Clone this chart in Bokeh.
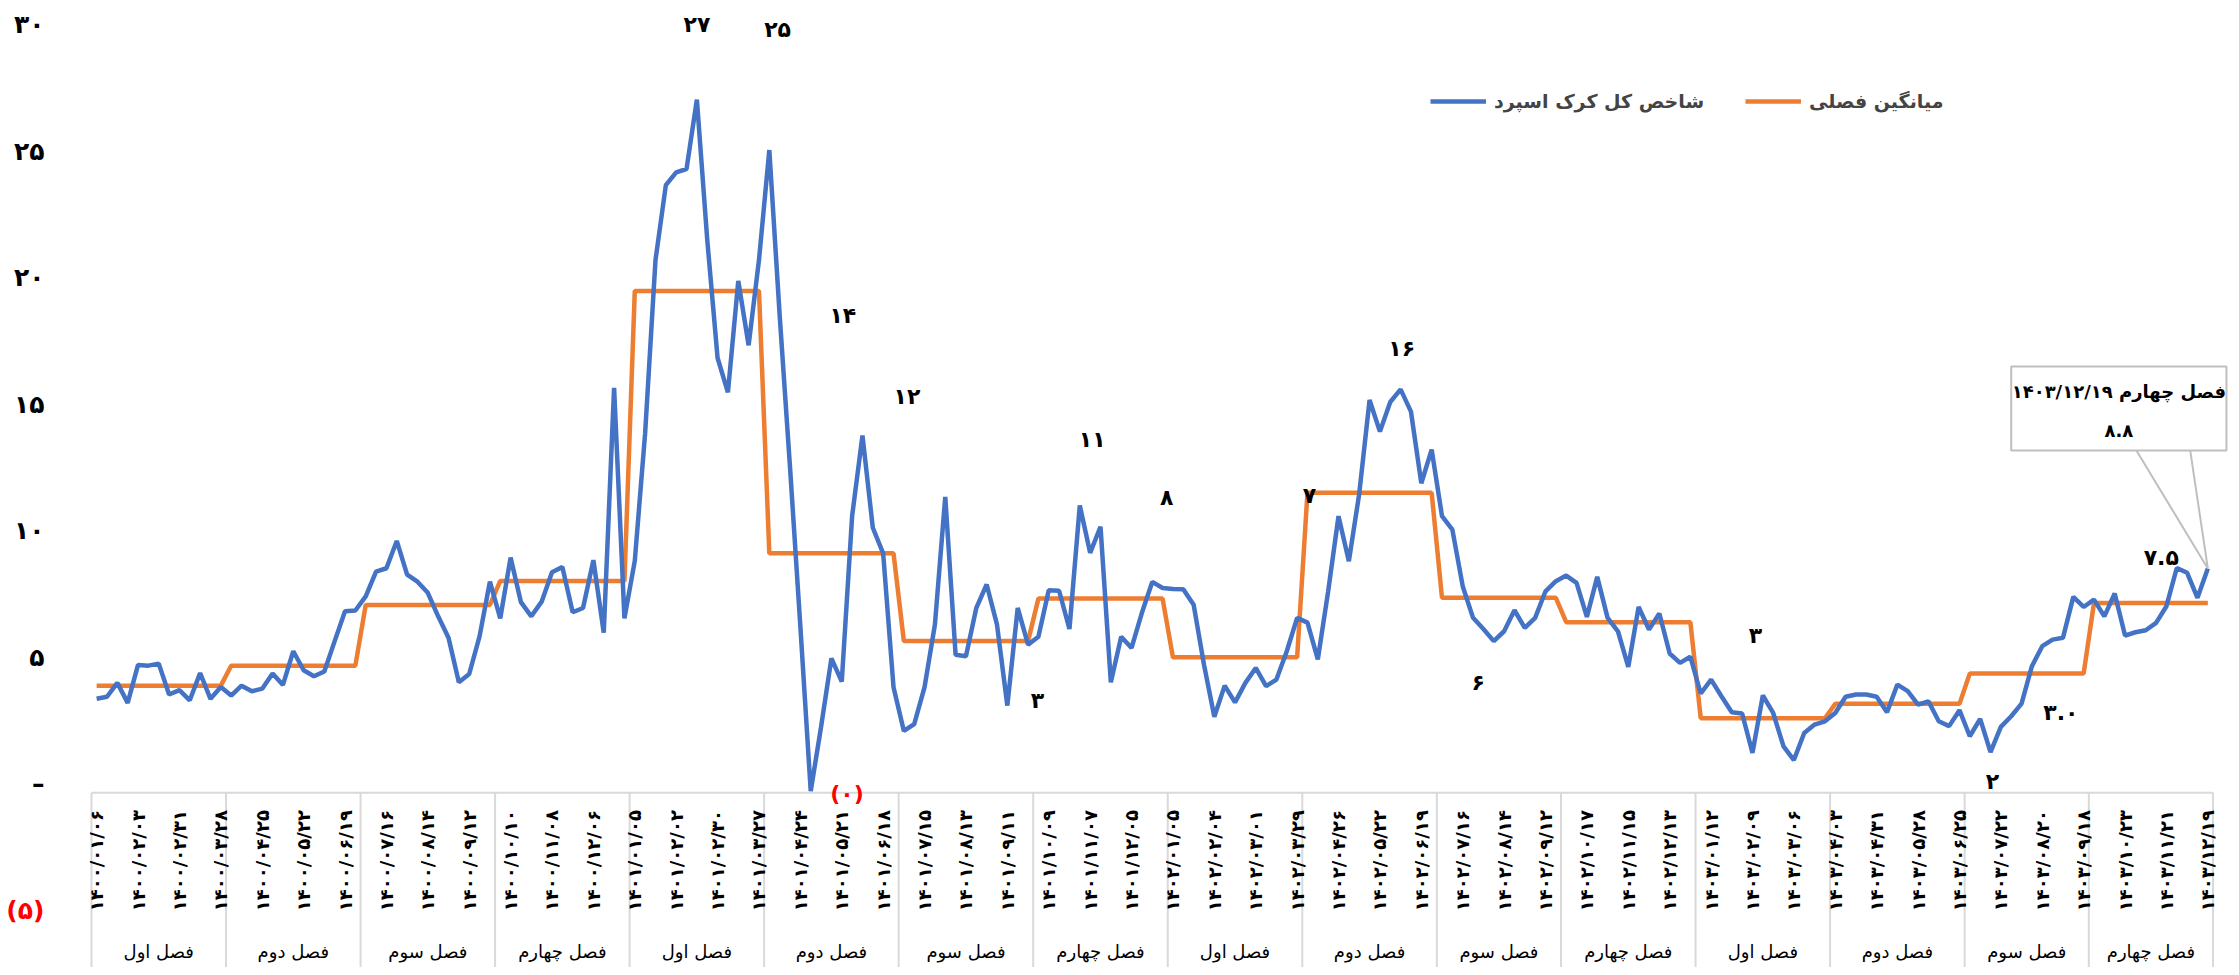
import numpy as np
from bokeh.plotting import figure
from bokeh.models import Legend, LegendItem, Range1d, ColumnDataSource
from bokeh.core.properties import value
from bokeh.embed import file_html
from bokeh.resources import INLINE

# ---------------- data ----------------
blue_1400 = [3.35, 3.43, 3.98, 3.19, 4.69, 4.66, 4.74, 3.52, 3.69, 3.29, 4.37, 3.35, 3.82,
             3.48, 3.87, 3.65, 3.75, 4.35, 3.90, 5.23, 4.48, 4.24, 4.43, 5.63, 6.81, 6.84,
             7.40, 8.38, 8.51, 9.59, 8.26, 7.98, 7.54, 6.61, 5.76, 4.00, 4.33, 5.82, 7.98,
             6.53, 8.93, 7.17, 6.61, 7.19, 8.35, 8.56, 6.77, 6.94, 8.83, 5.96, 15.64, 6.53]
blue_1401 = [8.80, 13.85, 20.69, 23.65, 24.16, 24.29, 27.03, 21.5, 16.82, 15.46, 19.87, 17.32, 20.69,
             25.04, 18.5, 12.5, 6.2, -0.3, 2.24, 4.95, 4.03, 10.57, 13.76, 10.11, 9.10, 3.81,
             2.08, 2.35, 3.81, 6.28, 11.33, 5.09, 5.03, 6.94, 7.87, 6.28, 3.08, 6.94, 5.49,
             5.80, 7.64, 7.62, 6.11, 10.99, 9.12, 10.15, 4.00, 5.80, 5.36, 6.75, 7.97, 7.73]
blue_1402 = [7.69, 7.68, 7.07, 4.70, 2.64, 3.87, 3.21, 3.98, 4.57, 3.85, 4.11, 5.23, 6.55,
             6.36, 4.91, 7.60, 10.57, 8.79, 11.45, 15.16, 13.91, 15.08, 15.58, 14.70, 11.87, 13.20,
             10.57, 10.04, 7.80, 6.55, 6.11, 5.63, 6.02, 6.85, 6.15, 6.55, 7.60, 8.00,
             8.22, 7.93, 6.59, 8.17, 6.55, 6.02, 4.61, 6.98, 6.09, 6.72, 5.14, 4.77, 5.01]
blue_1403 = [3.56, 4.11, 3.45, 2.82, 2.77, 1.21, 3.48, 2.79, 1.47, 0.93, 2.00, 2.33, 2.46,
             2.79, 3.43, 3.52, 3.52, 3.43, 2.82, 3.91, 3.65, 3.12, 3.25, 2.46, 2.27, 2.90,
             1.87, 2.56, 1.24, 2.24, 2.66, 3.16, 4.64, 5.43, 5.69, 5.76, 7.38, 6.98,
             7.27, 6.61, 7.51, 5.85, 5.98, 6.06, 6.35, 7.01, 8.52, 8.33, 7.34, 8.50]

season_names = ["فصل اول", "فصل دوم", "فصل سوم", "فصل چهارم"] * 4
season_lengths = [13, 13, 13, 13, 13, 13, 13, 13, 13, 13, 12, 13, 13, 13, 12, 12]
season_avg = [3.87, 4.66, 7.06, 8.01, 19.47, 9.10, 5.63, 7.31,
              4.99, 11.49, 7.34, 6.38, 2.58, 3.15, 4.35, 7.14]

date_labels = [
    "۱۴۰۰/۰۱/۰۶", "۱۴۰۰/۰۲/۰۳", "۱۴۰۰/۰۲/۳۱", "۱۴۰۰/۰۳/۲۸", "۱۴۰۰/۰۴/۲۵", "۱۴۰۰/۰۵/۲۲", "۱۴۰۰/۰۶/۱۹",
    "۱۴۰۰/۰۷/۱۶", "۱۴۰۰/۰۸/۱۴", "۱۴۰۰/۰۹/۱۲", "۱۴۰۰/۱۰/۱۰", "۱۴۰۰/۱۱/۰۸", "۱۴۰۰/۱۲/۰۶",
    "۱۴۰۱/۰۱/۰۵", "۱۴۰۱/۰۲/۰۲", "۱۴۰۱/۰۲/۳۰", "۱۴۰۱/۰۳/۲۷", "۱۴۰۱/۰۴/۲۴", "۱۴۰۱/۰۵/۲۱", "۱۴۰۱/۰۶/۱۸",
    "۱۴۰۱/۰۷/۱۵", "۱۴۰۱/۰۸/۱۳", "۱۴۰۱/۰۹/۱۱", "۱۴۰۱/۱۰/۰۹", "۱۴۰۱/۱۱/۰۷", "۱۴۰۱/۱۲/۰۵",
    "۱۴۰۲/۰۱/۰۵", "۱۴۰۲/۰۲/۰۴", "۱۴۰۲/۰۳/۰۱", "۱۴۰۲/۰۳/۲۹", "۱۴۰۲/۰۴/۲۶", "۱۴۰۲/۰۵/۲۲", "۱۴۰۲/۰۶/۱۹",
    "۱۴۰۲/۰۷/۱۶", "۱۴۰۲/۰۸/۱۴", "۱۴۰۲/۰۹/۱۲", "۱۴۰۲/۱۰/۱۷", "۱۴۰۲/۱۱/۱۵", "۱۴۰۲/۱۲/۱۳",
    "۱۴۰۳/۰۱/۱۲", "۱۴۰۳/۰۲/۰۹", "۱۴۰۳/۰۳/۰۶", "۱۴۰۳/۰۴/۰۳", "۱۴۰۳/۰۴/۳۱", "۱۴۰۳/۰۵/۲۸", "۱۴۰۳/۰۶/۲۵",
    "۱۴۰۳/۰۷/۲۲", "۱۴۰۳/۰۸/۲۰", "۱۴۰۳/۰۹/۱۸", "۱۴۰۳/۱۰/۲۳", "۱۴۰۳/۱۱/۲۱", "۱۴۰۳/۱۲/۱۹",
]
label_step = 4

y_ticks = [-5, 0, 5, 10, 15, 20, 25, 30]
y_tick_text = ["(۵)", "–", "۵", "۱۰", "۱۵", "۲۰", "۲۵", "۳۰"]
y_tick_color = ["red"] + ["black"] * 7

# annotations: text, x (week index), y (value), colour
notes_text = ["۲۷", "۲۵", "۱۴", "۱۲", "(۰)", "۳", "۱۱", "۸", "۷", "۱۶", "۶", "۳", "۲", "۳.۰", "۷.۵"]
notes_x = [58.0, 65.8, 72.1, 78.3, 72.5, 90.9, 96.2, 103.4, 117.2, 126.1, 133.5, 160.3, 183.2, 189.8, 199.5]
notes_y = [30.0, 29.8, 18.5, 15.3, -0.4, 3.3, 13.6, 11.3, 11.4, 17.2, 4.0, 5.85, 0.1, 2.8, 8.95]
notes_color = ["black"] * 4 + ["red"] + ["black"] * 10

callout_line1 = "فصل چهارم ۱۴۰۳/۱۲/۱۹"
callout_line2 = "۸.۸"

legend_labels = ["شاخص کل کرک اسپرد", "میانگین فصلی"]

BLUE = "#4472C4"
ORANGE = "#ED7D31"
GRID = "#D9D9D9"
FONT = "DejaVu Sans"

# ---------------- build series ----------------
blue = blue_1400 + blue_1401 + blue_1402 + blue_1403
n = len(blue)
x = list(range(n))
orange = []
for avg, ln in zip(season_avg, season_lengths):
    orange += [avg] * ln

bounds = np.concatenate([[0], np.cumsum(season_lengths)]) - 0.5
centers = (bounds[:-1] + bounds[1:]) / 2

Y_BOTTOM = -7.27
p = figure(width=2230, height=967, x_range=Range1d(-9.29, 206.19), y_range=Range1d(Y_BOTTOM, 30.95),
           output_backend="svg", toolbar_location=None, x_axis_location=None, y_axis_location=None,
           min_border_left=0, min_border_right=0, min_border_top=0, min_border_bottom=0)
p.grid.visible = False
p.outline_line_color = None
p.background_fill_color = "white"

# value-axis labels
p.text(x=[-5.04] * len(y_ticks), y=y_ticks, text=y_tick_text, text_color=y_tick_color,
       text_align="right", text_baseline="middle", text_font=value(FONT),
       text_font_style="bold", text_font_size="25px")

# category box lines
axis_y = -0.36
p.segment(x0=[bounds[0]], y0=[axis_y], x1=[bounds[-1]], y1=[axis_y], line_color=GRID, line_width=2)
p.segment(x0=bounds, y0=[axis_y] * len(bounds), x1=bounds, y1=[Y_BOTTOM] * len(bounds),
          line_color=GRID, line_width=2)

# date labels
lab_x = [i * label_step for i in range(len(date_labels))]
p.text(x=lab_x, y=[-1.05] * len(lab_x), text=date_labels, angle=np.pi / 2,
       text_align="right", text_baseline="middle", text_font=value(FONT),
       text_font_style="bold", text_font_size="18px", text_color="black")

# season labels
p.text(x=list(centers), y=[-6.64] * len(centers), text=season_names, text_align="center",
       text_baseline="middle", text_font=value(FONT), text_font_size="18px", text_color="black")

# lines
r_orange = p.line(x, orange, line_color=ORANGE, line_width=4.5)
r_blue = p.line(x, blue, line_color=BLUE, line_width=4.5)

# annotations
src = ColumnDataSource(dict(x=notes_x, y=notes_y, t=notes_text, c=notes_color))
p.text(x="x", y="y", text="t", text_color="c", source=src, text_align="center",
       text_baseline="middle", text_font=value(FONT), text_font_style="bold", text_font_size="22px")

# callout for last point
box_l, box_r, box_b, box_t = 185.0, 205.8, 13.16, 16.48
p.quad(left=[box_l], right=[box_r], bottom=[box_b], top=[box_t], fill_color="white",
       line_color="#BFBFBF", line_width=2)
p.line([197.1, x[-1], 202.3], [box_b, blue[-1], box_b], line_color="#BFBFBF", line_width=2)
p.text(x=[(box_l + box_r) / 2] * 2, y=[15.5, 13.95], text=[callout_line1, callout_line2],
       text_align="center", text_baseline="middle", text_font=value(FONT),
       text_font_style="bold", text_font_size="18px", text_color="black")

leg_style = dict(orientation="horizontal", border_line_color=None, background_fill_alpha=0,
                 padding=0, margin=0, glyph_width=56, glyph_height=22, label_standoff=8,
                 label_text_font=FONT, label_text_font_style="bold", label_text_font_size="19px")
legend_blue = Legend(items=[LegendItem(label=legend_labels[0], renderers=[r_blue])],
                     location=(1430, 855), **leg_style)
legend_orange = Legend(items=[LegendItem(label=legend_labels[1], renderers=[r_orange])],
                       location=(1745, 855), **leg_style)
p.add_layout(legend_blue)
p.add_layout(legend_orange)

open("out.html", "w").write(file_html(p, INLINE))
